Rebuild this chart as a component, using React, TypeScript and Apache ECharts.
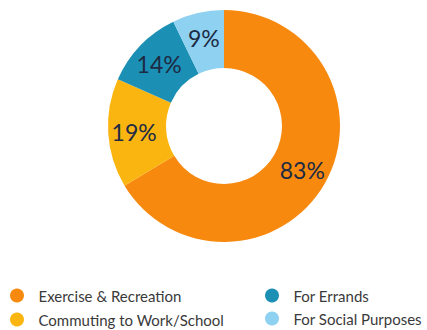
import React, { useEffect, useRef } from "react";
import * as echarts from "echarts";

const categories = ["Exercise & Recreation", "Commuting to Work/School", "For Errands", "For Social Purposes"];
const values = [83, 19, 14, 9];
const colors = ["#F7890E", "#FBB511", "#1C90B4", "#8ED1F0"];
const legendPos = [
  { left: 10, top: 288 },
  { left: 10, top: 312 },
  { left: 265, top: 288 },
  { left: 265, top: 311 },
];

export default function App() {
  const ref = useRef<HTMLDivElement>(null);
  useEffect(() => {
    document.body.style.margin = "0";
    const chart = echarts.init(ref.current!, null, { renderer: "svg" });
    chart.setOption({
      animation: false,
      color: colors,
      legend: categories.map((name, i) => ({
        left: legendPos[i].left,
        top: legendPos[i].top,
        padding: 0,
        icon: "circle",
        itemWidth: 15,
        itemHeight: 14,
        selectedMode: false,
        data: [name],
        textStyle: { fontFamily: "Lato", fontSize: 15, color: "#3a3a3a", padding: [0, 0, 0, 9] },
      })),
      series: [
        {
          type: "pie",
          center: [224, 126],
          radius: [58, 116],
          startAngle: 90,
          clockwise: true,
          avoidLabelOverlap: false,
          label: {
            show: true,
            position: "inside",
            formatter: "{c}%",
            fontFamily: "Lato",
            fontSize: 23,
            color: "#1d2a44",
          },
          labelLine: { show: false },
          emphasis: { disabled: true },
          data: categories.map((name, i) => ({ name, value: values[i] })),
        },
      ],
    });
    return () => chart.dispose();
  }, []);
  return <div ref={ref} style={{ width: 427, height: 330 }} />;
}
